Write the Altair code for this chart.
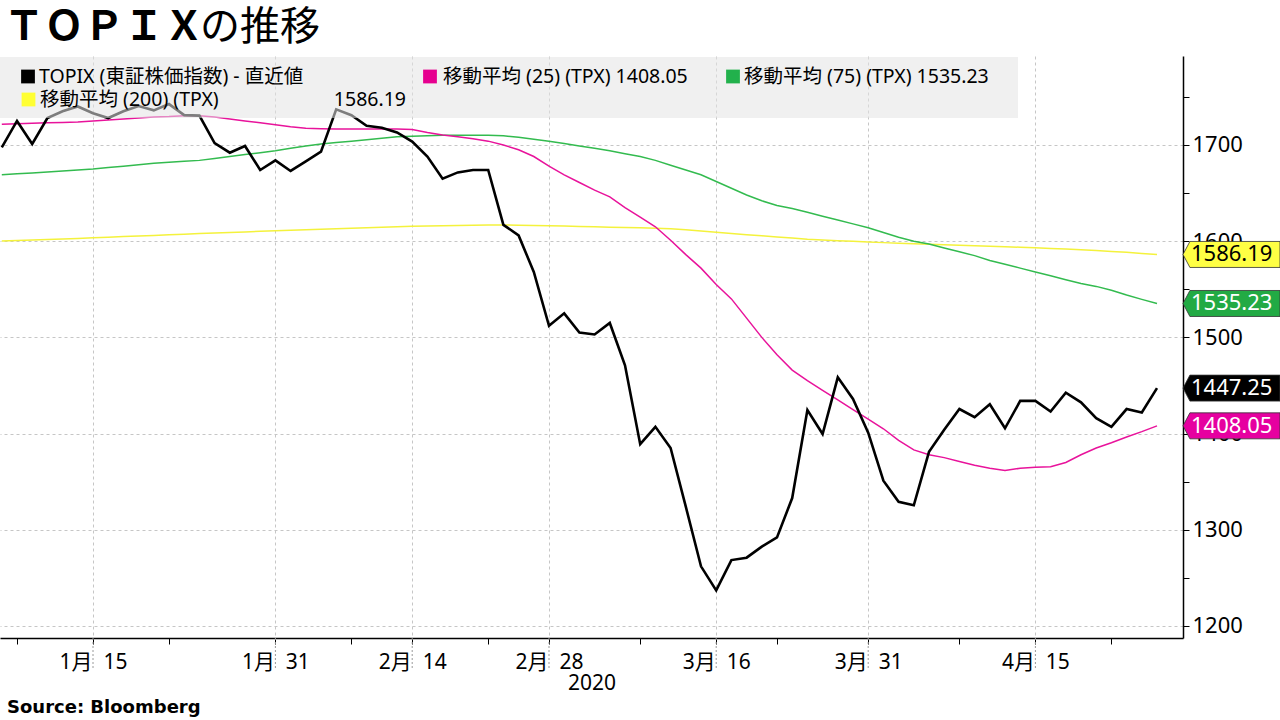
import altair as alt
import pandas as pd

# ---------------- data ----------------
dates = [
    "2020-01-06", "2020-01-07", "2020-01-08", "2020-01-09", "2020-01-10", "2020-01-14", "2020-01-15",
    "2020-01-16", "2020-01-17", "2020-01-20", "2020-01-21", "2020-01-22", "2020-01-23", "2020-01-24",
    "2020-01-27", "2020-01-28", "2020-01-29", "2020-01-30", "2020-01-31",
    "2020-02-03", "2020-02-04", "2020-02-05", "2020-02-06", "2020-02-07", "2020-02-10", "2020-02-12",
    "2020-02-13", "2020-02-14", "2020-02-17", "2020-02-18", "2020-02-19", "2020-02-20", "2020-02-21",
    "2020-02-25", "2020-02-26", "2020-02-27", "2020-02-28",
    "2020-03-02", "2020-03-03", "2020-03-04", "2020-03-05", "2020-03-06", "2020-03-09", "2020-03-10",
    "2020-03-11", "2020-03-12", "2020-03-13", "2020-03-16", "2020-03-17", "2020-03-18", "2020-03-19",
    "2020-03-23", "2020-03-24", "2020-03-25", "2020-03-26", "2020-03-27", "2020-03-30", "2020-03-31",
    "2020-04-01", "2020-04-02", "2020-04-03", "2020-04-06", "2020-04-07", "2020-04-08", "2020-04-09",
    "2020-04-10", "2020-04-13", "2020-04-14", "2020-04-15", "2020-04-16", "2020-04-17", "2020-04-20",
    "2020-04-21", "2020-04-22", "2020-04-23", "2020-04-24", "2020-04-27",
]

topix = [
    1697.5, 1725.0, 1701.0, 1728.0, 1735.0, 1740.0, 1733.0, 1728.0, 1735.0, 1740.5,
    1736.0, 1742.5, 1731.0, 1730.5, 1702.0, 1692.0, 1699.0, 1674.0, 1684.0, 1673.0,
    1683.0, 1693.0, 1737.0, 1731.0, 1720.0, 1718.0, 1713.0, 1703.5, 1688.0, 1665.0,
    1671.5, 1674.0, 1674.0, 1617.0, 1606.0, 1568.0, 1512.0, 1525.0, 1505.0, 1503.0,
    1515.0, 1471.0, 1389.0, 1407.0, 1385.0, 1324.0, 1262.0, 1237.0, 1268.5, 1271.0,
    1282.5, 1292.0, 1333.0, 1424.5, 1399.5, 1458.5, 1436.0, 1401.0, 1351.0, 1329.0,
    1325.5, 1381.0, 1404.0, 1425.5, 1417.0, 1430.5, 1405.5, 1434.0, 1434.0, 1423.0,
    1442.5, 1432.5, 1416.0, 1407.0, 1425.5, 1422.0, 1447.25,
]

ma25 = [
    1721.5, 1722.0, 1722.5, 1723.0, 1723.5, 1724.0, 1725.0, 1726.0, 1727.0, 1728.0,
    1729.0, 1729.5, 1730.5, 1730.5, 1729.0, 1727.0, 1725.0, 1723.0, 1721.0, 1719.0,
    1717.5, 1717.0, 1716.5, 1716.5, 1716.5, 1716.5, 1716.5, 1716.0, 1713.0, 1710.5,
    1708.5, 1706.5, 1704.0, 1700.0, 1695.0, 1688.0, 1678.0, 1669.0, 1661.0, 1653.0,
    1646.0, 1635.0, 1625.0, 1615.0, 1601.0, 1586.0, 1572.0, 1555.0, 1540.0, 1520.0,
    1500.0, 1482.0, 1466.0, 1455.0, 1445.0, 1435.0, 1425.0, 1415.0, 1405.0, 1393.0,
    1383.0, 1378.0, 1375.0, 1371.0, 1367.0, 1364.0, 1361.5, 1364.0, 1365.0, 1365.6,
    1370.0, 1378.0, 1385.0, 1390.5, 1396.5, 1402.0, 1408.05,
]

ma75 = [
    1669.0, 1670.0, 1671.0, 1672.0, 1673.0, 1674.0, 1675.0, 1676.5, 1678.0, 1679.5,
    1681.0, 1682.0, 1683.0, 1684.0, 1686.0, 1688.0, 1690.0, 1692.0, 1694.0, 1696.5,
    1699.0, 1701.0, 1702.5, 1704.0, 1705.5, 1707.0, 1708.5, 1709.0, 1709.5, 1710.0,
    1710.0, 1710.0, 1710.0, 1709.5, 1708.0, 1706.0, 1704.0, 1701.5, 1699.0, 1696.5,
    1694.0, 1691.0, 1688.0, 1684.0, 1679.0, 1674.0, 1669.0, 1662.0, 1655.0, 1648.0,
    1642.0, 1637.0, 1634.0, 1630.0, 1626.0, 1622.0, 1618.0, 1614.0, 1609.0, 1604.0,
    1600.0, 1597.0, 1593.0, 1589.0, 1585.0, 1580.0, 1576.0, 1572.0, 1568.0, 1564.0,
    1560.0, 1556.0, 1553.0, 1549.0, 1544.0, 1539.5, 1535.23,
]

ma200 = [
    1600.2, 1600.7, 1601.2, 1601.7, 1602.2, 1602.7, 1603.5, 1604.2, 1604.8, 1605.4,
    1606.0, 1606.6, 1607.3, 1608.0, 1608.5, 1609.0, 1609.6, 1610.2, 1610.8, 1611.4,
    1611.9, 1612.4, 1612.9, 1613.4, 1614.0, 1614.5, 1615.0, 1615.4, 1615.8, 1616.1,
    1616.4, 1616.6, 1616.8, 1616.8, 1616.6, 1616.3, 1616.0, 1615.7, 1615.3, 1614.9,
    1614.5, 1614.2, 1613.9, 1613.5, 1612.8, 1611.8, 1610.6, 1609.3, 1608.0, 1606.8,
    1605.6, 1604.4, 1603.2, 1602.0, 1601.2, 1600.5, 1599.8, 1599.1, 1598.5, 1597.9,
    1597.3, 1596.8, 1596.3, 1595.8, 1595.3, 1594.8, 1594.3, 1593.7, 1593.1, 1592.5,
    1591.8, 1591.1, 1590.3, 1589.4, 1588.4, 1587.3, 1586.19,
]

major_dates = ["2020-01-15", "2020-01-31", "2020-02-14", "2020-02-28", "2020-03-16", "2020-03-31", "2020-04-15"]
minor_dates = ["2020-01-07", "2020-01-22", "2020-02-07", "2020-02-21", "2020-03-09", "2020-03-23", "2020-04-08", "2020-04-22"]
y_major = [1200, 1300, 1400, 1500, 1600, 1700]
y_minor = [1250, 1350, 1450, 1550, 1650, 1750]

series_names = ["TOPIX (東証株価指数) - 直近値", "移動平均 (25) (TPX)", "移動平均 (75) (TPX)", "移動平均 (200) (TPX)"]
series_colors = ["#000000", "#e8139b", "#33bb4f", "#f4f23c"]
swatch_colors = ["#000000", "#e6008f", "#22b14c", "#ffff33"]
tag_fills = ["#000000", "#e600a0", "#22aa44", "#ffff44"]
tag_text_colors = ["#ffffff", "#ffffff", "#ffffff", "#000000"]

# ---------------- layout constants ----------------
FONT = "Noto Sans, Noto Sans CJK JP"
W, H = 1183, 582
PX_PER_DAY = 15.2
X0 = 1.8
NBSP = "\u00a0"

idx = list(range(len(dates)))
major_idx = [dates.index(d) for d in major_dates]
minor_idx = [dates.index(d) for d in minor_dates]


def tick_label(d):
    _, m, dd = d.split("-")
    return f"{int(m)}月{NBSP}{NBSP}{int(dd)}"


label_expr = " : ".join(
    f"datum.value == {i} ? '{tick_label(d)}'" for i, d in zip(major_idx, major_dates)
) + " : ''"

x_scale = alt.Scale(domain=[-X0 / PX_PER_DAY, (W - X0) / PX_PER_DAY], nice=False, zero=False)
y_scale = alt.Scale(domain=[1187.5, 1792.5], nice=False, zero=False)

x_axis = alt.Axis(
    values=sorted(major_idx + minor_idx), labelExpr=label_expr, title="2020",
    grid=True,
    gridOpacity={"condition": {"test": f"indexof({major_idx}, datum.value) >= 0", "value": 1}, "value": 0},
    gridColor="#c6c6c6", gridDash=[3, 3], gridWidth=1,
    domainColor="#000000", domainWidth=1.5, tickColor="#000000", tickSize=6, tickWidth=1,
    labelFont=FONT, labelFontSize=21, labelColor="#000000", labelPadding=7,
    labelFlush=False, labelOverlap=False,
    titleFont=FONT, titleFontSize=21, titleFontWeight="normal", titleColor="#000000", titlePadding=0,
)
y_axis = alt.Axis(
    orient="right", values=sorted(y_major + y_minor), format="d",
    labelExpr="datum.value % 100 == 0 ? datum.label : ''",
    grid=True,
    gridOpacity={"condition": {"test": "datum.value % 100 == 0", "value": 1}, "value": 0},
    gridColor="#c6c6c6", gridDash=[3, 3], gridWidth=1,
    domainColor="#000000", domainWidth=1.5, tickColor="#000000", tickSize=6, tickWidth=1,
    labelFont=FONT, labelFontSize=22, labelColor="#000000", labelPadding=3,
    labelFlush=False, labelOverlap=False, title=None,
)

X = alt.X("i:Q", scale=x_scale, axis=x_axis)
Y = alt.Y("v:Q", scale=y_scale, axis=y_axis)

# ---------------- line layers ----------------
all_series = [topix, ma25, ma75, ma200]


def series_df(k):
    return pd.DataFrame({"i": idx, "v": all_series[k], "s": series_names[k]})


line_200 = alt.Chart(series_df(3)).mark_line(color=series_colors[3], strokeWidth=1.5).encode(x=X, y=Y)
line_75 = alt.Chart(series_df(2)).mark_line(color=series_colors[2], strokeWidth=1.5).encode(x=X, y=Y)
line_25 = alt.Chart(series_df(1)).mark_line(color=series_colors[1], strokeWidth=1.5).encode(x=X, y=Y)
line_tp = alt.Chart(series_df(0)).mark_line(color=series_colors[0], strokeWidth=2.6).encode(x=X, y=Y)

# long major ticks under the axis
long_ticks = alt.Chart(pd.DataFrame({"i": major_idx})).mark_rule(
    color="#9a9a9a", strokeWidth=1, strokeDash=[2, 2]
).encode(x=X, y=alt.value(H), y2=alt.value(H + 30))

# ---------------- legend box ----------------
one = pd.DataFrame({"a": [0]})
legend_box = alt.Chart(one).mark_rect(color="#e4e4e4", opacity=0.55).encode(
    x=alt.value(0), x2=alt.value(1018), y=alt.value(1), y2=alt.value(62)
)

last = [s[-1] for s in all_series]
legend_texts = [
    series_names[0],
    f"{series_names[1]} {last[1]:.2f}",
    f"{series_names[2]} {last[2]:.2f}",
    series_names[3],
]
legend_pos = [(28, 39, 20.5), (430, 443, 20.5), (733, 744, 20.5), (28.5, 40, 43.5)]

legend_layers = []
for k in range(4):
    sx, tx, ty = legend_pos[k]
    legend_layers.append(
        alt.Chart(one).mark_square(size=190, color=swatch_colors[k], opacity=1, filled=True)
        .encode(x=alt.value(sx), y=alt.value(ty))
    )
    legend_layers.append(
        alt.Chart(one).mark_text(text=legend_texts[k], align="left", baseline="middle",
                                 font=FONT, fontSize=19.5, color="#000000")
        .encode(x=alt.value(tx), y=alt.value(ty))
    )
legend_layers.append(
    alt.Chart(one).mark_text(text=f"{last[3]:.2f}", align="right", baseline="middle",
                             font=FONT, fontSize=19.5, color="#000000")
    .encode(x=alt.value(406), y=alt.value(43.5))
)

# ---------------- right-hand value tags ----------------
tags = pd.DataFrame({
    "v": last,
    "label": [f"{v:.2f}" for v in last],
    "fill": tag_fills,
    "tc": tag_text_colors,
})
tag_path = "M-3.73,0L-3.2,-1L3.73,-1L3.73,1L-3.2,1Z"
tag_shapes = alt.Chart(tags).mark_point(
    shape=tag_path, size=676, filled=True, opacity=1, stroke="#333333", strokeWidth=0.8
).encode(x=alt.value(W + 48.5), y=Y, fill=alt.Fill("fill:N", scale=None))
tag_texts = alt.Chart(tags).mark_text(
    align="left", baseline="middle", font=FONT, fontSize=22
).encode(x=alt.value(W + 8), y=Y, text="label:N", color=alt.Color("tc:N", scale=None))

# ---------------- title & source ----------------
title_a = alt.Chart(one).mark_text(
    text="ＴＯＰＩＸ", align="left", baseline="middle", font="Noto Sans CJK JP",
    fontSize=40, fontWeight="bold", color="#000000"
).encode(x=alt.value(4), y=alt.value(-28))
title_b = alt.Chart(one).mark_text(
    text="の推移", align="left", baseline="middle", font="Noto Sans CJK JP",
    fontSize=40, fontWeight="normal", color="#000000"
).encode(x=alt.value(200), y=alt.value(-28))
source = alt.Chart(one).mark_text(
    text="Source: Bloomberg", align="left", baseline="middle", font="DejaVu Sans",
    fontSize=18, fontWeight="bold", color="#000000"
).encode(x=alt.value(7), y=alt.value(652))

chart = alt.layer(
    line_200, line_75, line_25, line_tp, long_ticks, legend_box,
    *legend_layers, tag_shapes, tag_texts, title_a, title_b, source,
).properties(
    width=W, height=H,
    autosize=alt.AutoSizeParams(type="none"),
    padding={"left": 0, "top": 56, "right": 1280 - W, "bottom": 720 - 56 - H},
    background="#ffffff",
).configure_view(stroke=None)

chart.save("out.html", embed_options={"renderer": "svg", "actions": False})
